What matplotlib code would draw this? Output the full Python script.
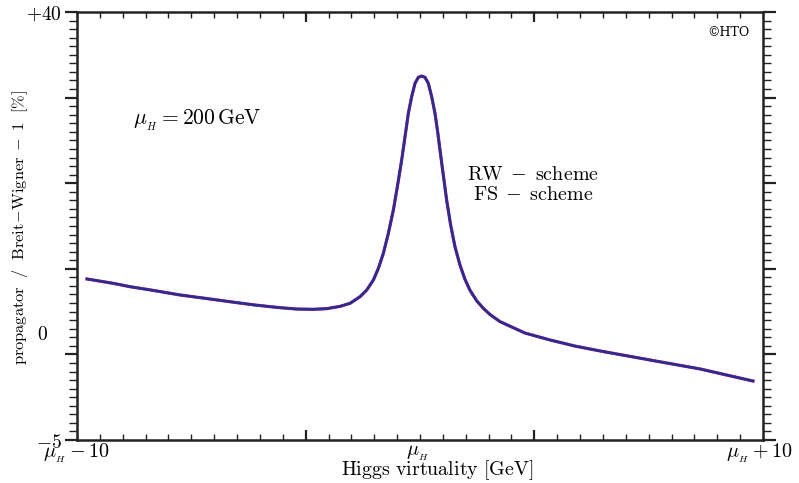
"""
Higgs propagator / Breit-Wigner - 1, RW and FS schemes (mu_H = 200 GeV).
"""

import numpy as np
import matplotlib
matplotlib.use("Agg")
import matplotlib.pyplot as plt
import matplotlib.ticker as mticker

plt.rcParams["mathtext.fontset"] = "cm"

# ---------------------------------------------------------------------------
# Data, x = virtuality - mu_H in GeV
# ---------------------------------------------------------------------------
x_gev = [-10.0, -9.21, -8.71, -7.96, -7.21, -6.46, -5.71, -4.95, -4.20, -3.70,
         -3.20, -2.80, -2.40, -2.10, -1.80, -1.60, -1.40, -1.25, -1.10, -0.95,
         -0.80, -0.68, -0.55, -0.45, -0.35, -0.25, -0.15, -0.05, 0.05, 0.15,
         0.25, 0.35, 0.45, 0.53, 0.60, 0.70, 0.80, 0.92, 1.05, 1.20,
         1.35, 1.50, 1.70, 1.90, 2.10, 2.40, 3.15, 3.90, 4.65, 5.41,
         6.91, 8.41, 10.0]
ratio_pct = [11.93, 11.47, 11.12, 10.70, 10.25, 9.90, 9.54, 9.19, 8.91, 8.77,
             8.74, 8.81, 9.05, 9.37, 10.07, 10.77, 11.82, 13.05, 14.63, 16.73,
             19.18, 21.63, 24.44, 26.89, 29.35, 31.10, 32.50, 33.13, 33.27, 33.13,
             32.50, 31.10, 29.35, 27.42, 25.49, 22.86, 20.23, 17.61, 15.33, 13.40,
             11.90, 10.75, 9.65, 8.85, 8.20, 7.45, 6.25, 5.52, 4.88, 4.36,
             3.41, 2.47, 1.20]

# RW and FS curves coincide at this scale
rw_values = ratio_pct
fs_values = ratio_pct

x_range = (-10.3, 10.3)
y_range = (-5, 40)

fig = plt.figure(figsize=(7.99, 4.83), dpi=100)
ax = fig.add_axes([77 / 799, 1 - 440 / 483, (763 - 77) / 799, (440 - 12) / 483])

ax.plot(x_gev, rw_values, color="#c2306a", lw=2.3, solid_joinstyle="round")
ax.plot(x_gev, fs_values, color="#2b2b95", lw=1.9, solid_joinstyle="round")

ax.set_xlim(*x_range)
ax.set_ylim(*y_range)

# ticks
span = x_range[1] - x_range[0]
ax.xaxis.set_major_locator(mticker.FixedLocator([x_range[0] + span / 3, x_range[0] + 2 * span / 3]))
ax.xaxis.set_minor_locator(mticker.FixedLocator(np.linspace(x_range[0], x_range[1], 31)))
ax.xaxis.set_major_formatter(mticker.NullFormatter())
ax.tick_params(axis="x", which="both", direction="in", top=True, bottom=True, width=1.0, color="#222222")
ax.tick_params(axis="x", which="major", length=7, width=1.6)
ax.tick_params(axis="x", which="minor", length=4)

ax.yaxis.set_major_locator(mticker.FixedLocator(np.arange(-5, 41, 9)))
ax.yaxis.set_minor_locator(mticker.FixedLocator(np.linspace(-5, 40, 51)))
ax.yaxis.set_major_formatter(mticker.FixedFormatter(["$-5$", "", "", "", "", "$+40$"]))
ax.tick_params(axis="y", which="both", direction="out", left=True, right=True, width=1.0,
               color="#222222", labelsize=14, pad=2)
ax.tick_params(axis="y", which="major", length=9, width=1.6)
ax.tick_params(axis="y", which="minor", length=6)

for sp in ax.spines.values():
    sp.set_linewidth(1.8)
    sp.set_color("#222222")

# "0" label as it sits in the original
ax.text(-0.051, (440 - 334) / 428, "$0$", transform=ax.transAxes, ha="center", va="center", fontsize=14)

# x labels
ax.text(0.0, -0.030, r"$\mu_{_H} - 10$", transform=ax.transAxes, ha="center", va="center", fontsize=14.5)
ax.text((418 - 77) / 686, -0.030, r"$\mu_{_H}$", transform=ax.transAxes, ha="center", va="center", fontsize=14.5)
ax.text(0.995, -0.030, r"$\mu_{_H} + 10$", transform=ax.transAxes, ha="center", va="center", fontsize=14.5)
ax.text((437 - 77) / 686, -0.071, r"$\mathrm{Higgs\ virtuality\ [GeV]}$", transform=ax.transAxes,
        ha="center", va="center", fontsize=14.4)

# y label
fig.text(20 / 799, 1 - 228 / 483,
         r"$\mathrm{propagator\ \ /\ \ Breit\!-\!Wigner\;-\;1\ \ [\%]}$",
         rotation=90, ha="center", va="center", fontsize=11.8)

# annotations
ax.text((133 - 77) / 686, (440 - 120) / 428, r"$\mu_{_H} = 200\,\mathrm{GeV}$", transform=ax.transAxes,
        ha="left", va="center", fontsize=15.5)
ax.text((533 - 77) / 686, (440 - 175) / 428, r"$\mathrm{RW\;-\;scheme}$", transform=ax.transAxes,
        ha="center", va="center", fontsize=14.5)
ax.text((533 - 77) / 686, (440 - 195) / 428, r"$\mathrm{FS\;-\;scheme}$", transform=ax.transAxes,
        ha="center", va="center", fontsize=14.5)
ax.text((728 - 77) / 686, (440 - 33) / 428, "©HTO", transform=ax.transAxes,
        ha="center", va="center", fontsize=9, family="DejaVu Serif")

fig.savefig("out.png", dpi=100)
